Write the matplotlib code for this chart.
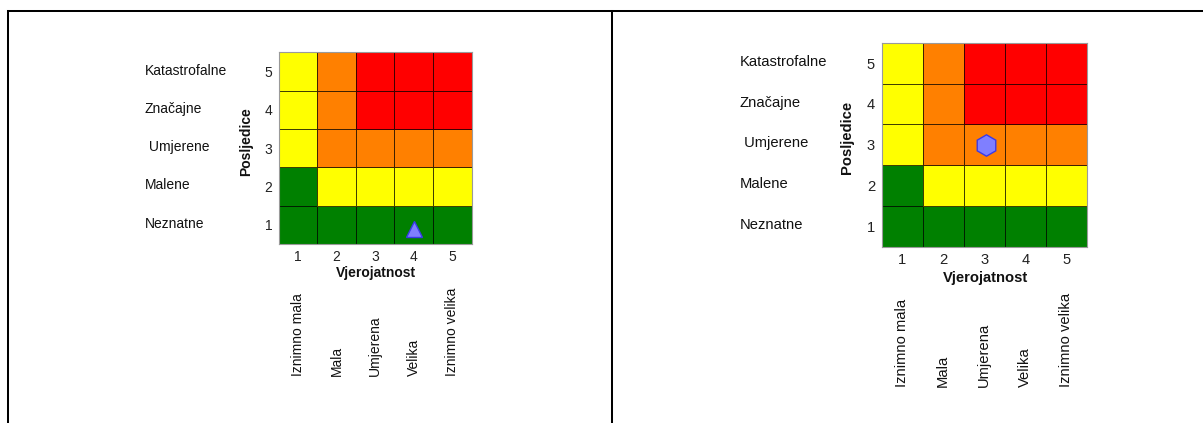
import numpy as np
import matplotlib.pyplot as plt
from matplotlib.colors import ListedColormap
from matplotlib.lines import Line2D

plt.rcParams['font.family'] = ['Liberation Sans', 'DejaVu Sans']

# ---------- data ----------
# risk level per cell, rows = posljedice 1..5, cols = vjerojatnost 1..5
# 0 green, 1 yellow, 2 orange, 3 red
risk_levels = [
    [0, 0, 0, 0, 0],
    [0, 1, 1, 1, 1],
    [1, 2, 2, 2, 2],
    [1, 2, 3, 3, 3],
    [1, 2, 3, 3, 3],
]
risk_colors = ["#008000", "#ffff00", "#ff8000", "#ff0000"]

ticks = [1, 2, 3, 4, 5]
consequence_names = ["Neznatne", "Malene", " Umjerene", "Značajne", "Katastrofalne"]
likelihood_names = ["Iznimno mala", "Mala", "Umjerena", "Velika", "Iznimno velika"]

# one marked risk per panel
marker_x = [4, 3.05]
marker_y = [0.9, 3.0]
marker_shape = ["^", "h"]
marker_size = [11.5, 14.5]

W, H = 1203, 423
fig = plt.figure(figsize=(W / 100, H / 100), dpi=100)

# panel rects in pixels: left, top, right, bottom
panel_px = [(278.6, 52.5, 471.7, 244.0), (881.7, 42.7, 1086.7, 246.7)]


def draw_matrix(ax, fs, mx, my, mshape, msize):
    cmap = ListedColormap(risk_colors)
    edges = np.arange(0.5, 6.5, 1.0)
    ax.pcolormesh(edges, edges, np.array(risk_levels), cmap=cmap, vmin=-0.5, vmax=3.5,
                  edgecolors=(0, 0, 0, 0.75), linewidth=0.6)
    ax.set_xlim(0.5, 5.5)
    ax.set_ylim(0.5, 5.5)
    for sp in ax.spines.values():
        sp.set_color("#9a9a9a")
        sp.set_linewidth(0.8)
    ax.set_xticks(ticks)
    ax.set_yticks(ticks)
    ax.set_xticklabels([str(t) for t in ticks], fontsize=fs, color="#222222")
    ax.set_yticklabels([str(t) for t in ticks], fontsize=fs, color="#222222")
    ax.tick_params(length=0, pad=fs * 0.45)

    ax.plot([mx], [my], marker=mshape, ms=msize * fs / 10, color="#7f7fff",
            mec="#3a3ae8", mew=1.0, ls="none", zorder=5, clip_on=False)

    ax.text(0.505, -0.153, "Vjerojatnost", transform=ax.transAxes, ha="center", va="center",
            fontsize=fs, fontweight="bold", color="#111111")
    ax.text(-0.17, 0.535, "Posljedice", transform=ax.transAxes, ha="center", va="center",
            rotation=90, fontsize=fs, fontweight="bold", color="#111111")

    ytr = ax.get_yaxis_transform()
    for t, name in zip(ticks, consequence_names):
        ax.text(-0.692, t + 0.03, name, transform=ytr, ha="left", va="center",
                fontsize=fs, color="#111111")
    xtr = ax.get_xaxis_transform()
    for t, name in zip(ticks, likelihood_names):
        ax.text(t, -0.69, name, transform=xtr, ha="center", va="bottom", rotation=90,
                fontsize=fs, color="#111111")


for i, (l, t, r, b) in enumerate(panel_px):
    ax = fig.add_axes([l / W, 1 - b / H, (r - l) / W, (b - t) / H])
    fs = 10.0 * (r - l) / 193.1
    draw_matrix(ax, fs, marker_x[i], marker_y[i], marker_shape[i], marker_size[i])

# table borders
lw = 1.45
fig.add_artist(Line2D([7.5 / W, 1.0], [1 - 11.2 / H] * 2, color="black", lw=lw))
fig.add_artist(Line2D([7.7 / W] * 2, [0.0, 1 - 11.2 / H], color="black", lw=lw))
fig.add_artist(Line2D([611.8 / W] * 2, [0.0, 1 - 11.2 / H], color="black", lw=lw))

fig.savefig("out.png", dpi=100, facecolor="white")
